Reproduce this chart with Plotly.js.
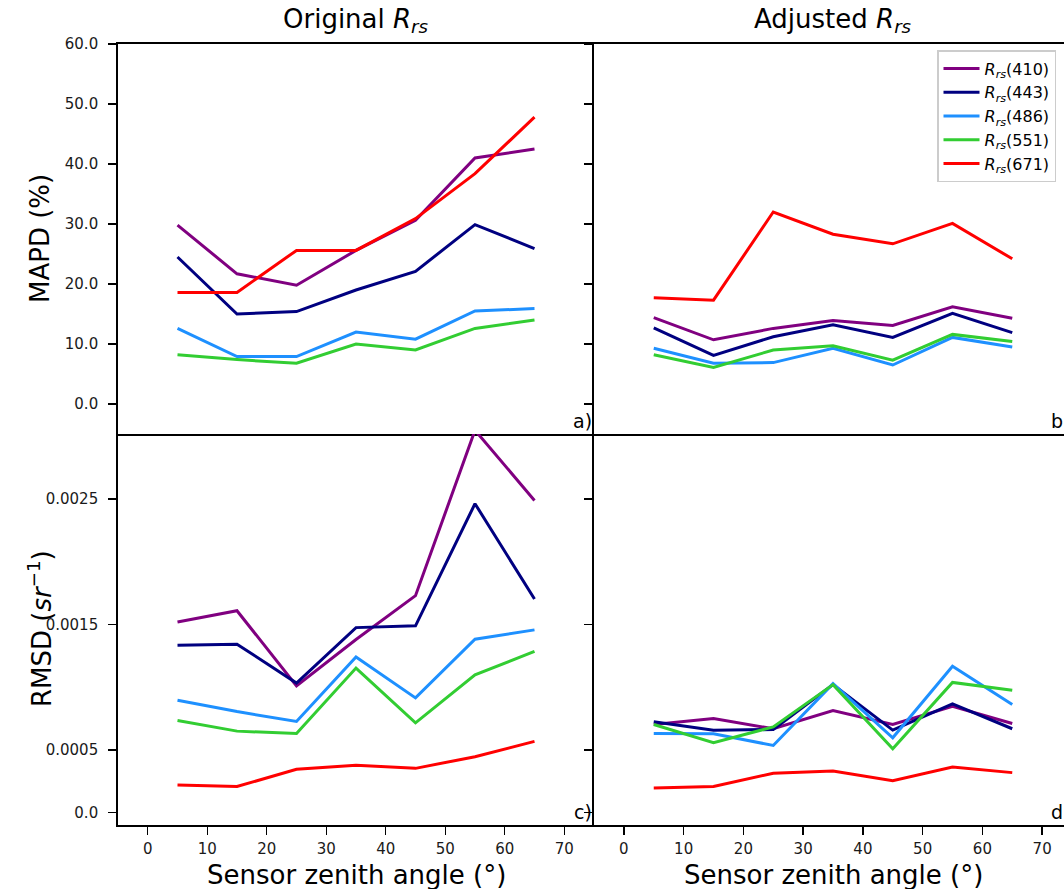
<!DOCTYPE html>
<html>
<head>
<meta charset="utf-8">
<script src="https://cdn.plot.ly/plotly-3.0.1.min.js"></script>
<style>
html,body{margin:0;padding:0;overflow:hidden;background:#fff;}
#chart{width:1080px;height:889px;}
</style>
</head>
<body>
<div id="chart"></div>
<script>
// Sensor zenith angle bins (degrees)
const angles = [5, 15, 25, 35, 45, 55, 65];
const bandNames = ['410', '443', '486', '551', '671'];

// MAPD (%) – original Rrs
const mapdOrig410 = [29.8, 21.7, 19.8, 25.6, 30.6, 41.0, 42.5];
const mapdOrig443 = [24.5, 15.0, 15.4, 19.0, 22.1, 29.9, 25.9];
const mapdOrig486 = [12.6, 7.9, 7.9, 12.0, 10.8, 15.5, 15.9];
const mapdOrig551 = [8.2, 7.4, 6.8, 10.0, 9.0, 12.6, 14.0];
const mapdOrig671 = [18.6, 18.6, 25.6, 25.6, 30.9, 38.4, 47.8];

// MAPD (%) – adjusted Rrs
const mapdAdj410 = [14.4, 10.7, 12.6, 13.9, 13.1, 16.2, 14.3];
const mapdAdj443 = [12.7, 8.1, 11.2, 13.2, 11.1, 15.1, 11.9];
const mapdAdj486 = [9.3, 6.8, 6.9, 9.3, 6.5, 11.1, 9.5];
const mapdAdj551 = [8.2, 6.1, 9.0, 9.7, 7.3, 11.6, 10.4];
const mapdAdj671 = [17.7, 17.3, 32.0, 28.3, 26.7, 30.1, 24.2];

// RMSD (sr^-1) – original Rrs
const rmsdOrig410 = [0.00152, 0.00161, 0.00101, 0.00138, 0.00173, 0.00305, 0.00249];
const rmsdOrig443 = [0.001335, 0.001343, 0.001033, 0.001475, 0.001489, 0.002464, 0.001703];
const rmsdOrig486 = [0.000895, 0.000805, 0.000726, 0.00124, 0.000914, 0.001383, 0.001457];
const rmsdOrig551 = [0.000734, 0.000649, 0.00063, 0.001152, 0.000715, 0.001099, 0.001285];
const rmsdOrig671 = [0.00022, 0.000207, 0.000344, 0.000376, 0.000352, 0.000445, 0.000567];

// RMSD (sr^-1) – adjusted Rrs
const rmsdAdj410 = [0.000702, 0.00075, 0.000668, 0.000813, 0.000702, 0.000848, 0.00071];
const rmsdAdj443 = [0.000723, 0.000657, 0.000662, 0.00102, 0.000657, 0.000866, 0.000668];
const rmsdAdj486 = [0.00063, 0.000628, 0.000535, 0.001028, 0.000596, 0.001166, 0.000861];
const rmsdAdj551 = [0.000702, 0.000556, 0.000683, 0.00102, 0.000509, 0.001038, 0.000975];
const rmsdAdj671 = [0.000196, 0.000207, 0.000313, 0.000331, 0.000254, 0.000363, 0.000318];

// Tick labels
const xTickVals = [0, 10, 20, 30, 40, 50, 60, 70];
const mapdTickVals = [0, 10, 20, 30, 40, 50, 60];
const mapdTickText = ['0.0', '10.0', '20.0', '30.0', '40.0', '50.0', '60.0'];
const rmsdTickVals = [0, 0.0005, 0.0015, 0.0025];
const rmsdTickText = ['0.0', '0.0005', '0.0015', '0.0025'];

const lineColors = ['#800080', '#000080', '#1E90FF', '#32CD32', '#FF0000'];

const panels = [
  {series: [mapdOrig410, mapdOrig443, mapdOrig486, mapdOrig551, mapdOrig671], xa: 'x', ya: 'y', legend: false},
  {series: [mapdAdj410, mapdAdj443, mapdAdj486, mapdAdj551, mapdAdj671], xa: 'x2', ya: 'y2', legend: true},
  {series: [rmsdOrig410, rmsdOrig443, rmsdOrig486, rmsdOrig551, rmsdOrig671], xa: 'x3', ya: 'y3', legend: false},
  {series: [rmsdAdj410, rmsdAdj443, rmsdAdj486, rmsdAdj551, rmsdAdj671], xa: 'x4', ya: 'y4', legend: false}
];

const traces = [];
panels.forEach(p => {
  p.series.forEach((vals, i) => {
    traces.push({
      x: angles, y: vals, xaxis: p.xa, yaxis: p.ya,
      type: 'scatter', mode: 'lines',
      name: '<i>R</i><sub><i>rs</i></sub>(' + bandNames[i] + ')',
      line: {color: lineColors[i], width: 3},
      showlegend: p.legend,
      hoverinfo: 'x+y'
    });
  });
});

const W = 1080, H = 889;
const L = 118, R = 1072, T = 44, B = 825;
const pw = R - L, ph = B - T;
const xSplit = (594 - L) / pw;
const ySplit = (B - 434) / ph;

const FONT = 'DejaVu Sans';
const tickFont = {family: FONT, size: 15, color: '#1a1a1a'};
const baseAxis = {
  showline: true, linecolor: '#000', linewidth: 1.8,
  showgrid: false, zeroline: false,
  ticks: 'outside', ticklen: 8, tickwidth: 1.4, tickcolor: '#000',
  tickfont: tickFont
};

function ax(extra) { return Object.assign({}, baseAxis, extra); }

const titleFont = {family: FONT, size: 26, color: '#000'};
const panelFont = {family: FONT, size: 19, color: '#000'};

const layout = {
  width: W, height: H,
  margin: {l: L, r: W - R, t: T, b: H - B, pad: 0},
  paper_bgcolor: '#fff', plot_bgcolor: '#fff',
  font: {family: FONT, color: '#000'},
  showlegend: true,
  legend: {
    x: (937 - L) / pw, y: (B - 50) / ph, xanchor: 'left', yanchor: 'top',
    xref: 'paper', yref: 'paper',
    bgcolor: 'rgba(255,255,255,0.9)', bordercolor: '#cccccc', borderwidth: 1.5,
    font: {family: FONT, size: 16, color: '#000'},
    itemwidth: 36,
    tracegroupgap: 0
  },
  // top row x axes draw the top frame and the shared middle edge
  xaxis: ax({domain: [0, xSplit], anchor: 'y', range: [-5, 75], tickvals: xTickVals, showticklabels: false, ticks: '', mirror: true}),
  xaxis2: ax({domain: [xSplit, 1], anchor: 'y2', range: [-5, 75], tickvals: xTickVals, showticklabels: false, ticks: '', mirror: true}),
  xaxis3: ax({domain: [0, xSplit], anchor: 'y3', range: [-5, 75], tickvals: xTickVals, mirror: false, ticklabelstandoff: 1}),
  xaxis4: ax({domain: [xSplit, 1], anchor: 'y4', range: [-5, 75], tickvals: xTickVals, mirror: false, ticklabelstandoff: 1}),
  yaxis: ax({domain: [ySplit, 1], anchor: 'x', range: [-5, 60], tickvals: mapdTickVals, ticktext: mapdTickText, mirror: false, ticklabelstandoff: 7}),
  yaxis2: ax({domain: [ySplit, 1], anchor: 'x2', range: [-5, 60], tickvals: mapdTickVals, showticklabels: false, mirror: true}),
  yaxis3: ax({domain: [0, ySplit], anchor: 'x3', range: [-0.0001, 0.00302], tickvals: rmsdTickVals, ticktext: rmsdTickText, mirror: false, ticklabelstandoff: 7}),
  yaxis4: ax({domain: [0, ySplit], anchor: 'x4', range: [-0.0001, 0.00302], tickvals: rmsdTickVals, showticklabels: false, mirror: true}),
  annotations: [
    {text: 'Original <i>R</i><sub><i>rs</i></sub>', xref: 'paper', yref: 'paper',
     x: xSplit / 2, y: (B - 21) / ph, xanchor: 'center', yanchor: 'middle', showarrow: false, font: titleFont},
    {text: 'Adjusted <i>R</i><sub><i>rs</i></sub>', xref: 'paper', yref: 'paper',
     x: (xSplit + 1) / 2, y: (B - 21) / ph, xanchor: 'center', yanchor: 'middle', showarrow: false, font: titleFont},
    {text: 'MAPD (%)', xref: 'paper', yref: 'paper', textangle: -90,
     x: (40 - L) / pw, y: (B - 239) / ph, xanchor: 'center', yanchor: 'middle', showarrow: false, font: titleFont},
    {text: 'RMSD (<i>sr</i><sup>−1</sup>)', xref: 'paper', yref: 'paper', textangle: -90,
     x: (40 - L) / pw, y: (B - 629) / ph, xanchor: 'center', yanchor: 'middle', showarrow: false, font: titleFont},
    {text: 'Sensor zenith angle (°)', xref: 'paper', yref: 'paper',
     x: xSplit / 2, y: (B - 875) / ph, xanchor: 'center', yanchor: 'middle', showarrow: false, font: titleFont},
    {text: 'Sensor zenith angle (°)', xref: 'paper', yref: 'paper',
     x: (xSplit + 1) / 2, y: (B - 875) / ph, xanchor: 'center', yanchor: 'middle', showarrow: false, font: titleFont},
    {text: 'a)', xref: 'x domain', yref: 'y domain', x: 1, y: 0, xanchor: 'right', yanchor: 'bottom',
     showarrow: false, font: panelFont},
    {text: 'b)', xref: 'x2 domain', yref: 'y2 domain', x: 1, y: 0, xanchor: 'right', yanchor: 'bottom',
     showarrow: false, font: panelFont},
    {text: 'c)', xref: 'x3 domain', yref: 'y3 domain', x: 1, y: 0, xanchor: 'right', yanchor: 'bottom',
     showarrow: false, font: panelFont},
    {text: 'd)', xref: 'x4 domain', yref: 'y4 domain', x: 1, y: 0, xanchor: 'right', yanchor: 'bottom',
     showarrow: false, font: panelFont}
  ]
};

Plotly.newPlot('chart', traces, layout, {displayModeBar: false, staticPlot: true});
</script>
</body>
</html>
